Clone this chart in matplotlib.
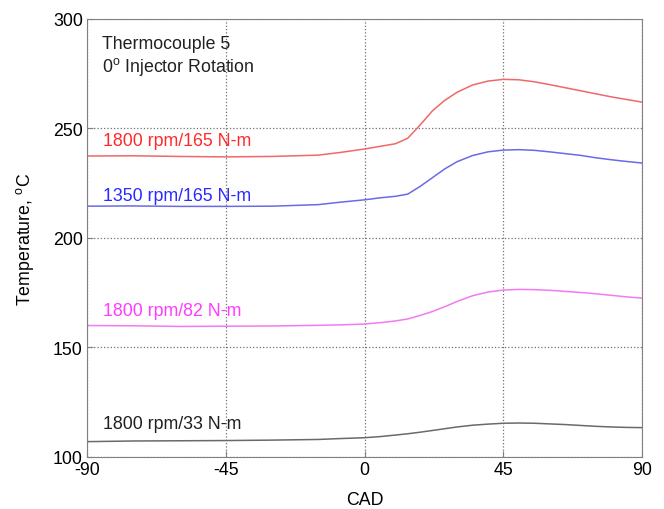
import numpy as np
import matplotlib
matplotlib.use('Agg')
import matplotlib.pyplot as plt

plt.rcParams['font.family'] = ['Liberation Sans', 'DejaVu Sans']
plt.rcParams['mathtext.fontset'] = 'custom'
plt.rcParams['mathtext.rm'] = 'Liberation Sans'
plt.rcParams['mathtext.it'] = 'Liberation Sans'
plt.rcParams['axes.unicode_minus'] = False

# crank angle (deg) and temperatures
cad = [-90, -75, -60, -45, -30, -15, -8, 0, 5, 10, 14, 18, 22, 26, 30, 35, 40, 45,
       50, 55, 60, 65, 70, 75, 80, 85, 90]
t_1800_165 = [237.4, 237.5, 237.2, 237.0, 237.2, 237.8, 239.0, 240.6, 241.8, 243.0, 245.5,
              251.5, 258.0, 262.8, 266.5, 269.8, 271.6, 272.4, 272.2, 271.3, 270.0,
              268.6, 267.2, 265.8, 264.4, 263.2, 262.0]
t_1350_165 = [214.5, 214.6, 214.4, 214.4, 214.5, 215.2, 216.3, 217.4, 218.3, 219.0, 220.0,
              223.5, 227.5, 231.5, 234.8, 237.6, 239.3, 240.1, 240.3, 240.0, 239.3,
              238.5, 237.7, 236.6, 235.7, 234.9, 234.2]
t_1800_82 = [160.0, 159.9, 159.6, 159.7, 159.8, 160.1, 160.3, 160.7, 161.3, 162.1, 163.0,
             164.6, 166.4, 168.6, 171.0, 173.6, 175.3, 176.2, 176.5, 176.4, 176.1,
             175.6, 175.1, 174.5, 173.8, 173.1, 172.5]
t_1800_33 = [107.0, 107.3, 107.4, 107.5, 107.7, 108.0, 108.4, 108.8, 109.3, 110.0, 110.6,
             111.3, 112.1, 112.9, 113.7, 114.5, 115.0, 115.4, 115.5, 115.4, 115.1,
             114.8, 114.4, 114.0, 113.7, 113.5, 113.4]

series = [
    (t_1800_165, '#f06868', '#ff2a2a', '1800 rpm/165 N-m', 244.3),
    (t_1350_165, '#6a6ae6', '#2a2aff', '1350 rpm/165 N-m', 219.2),
    (t_1800_82, '#f27af2', '#ff3cff', '1800 rpm/82 N-m', 167.1),
    (t_1800_33, '#6a6a6a', '#202020', '1800 rpm/33 N-m', 115.2),
]

fs = 12.8
fig = plt.figure(figsize=(6.64, 5.10), dpi=100)
ax = fig.add_axes([0.131, 0.102, 0.836, 0.859])

for vals, lc, tc, label, ty in series:
    ax.plot(cad, vals, color=lc, lw=1.1)
    ax.text(-84.8, ty, label, color=tc, fontsize=fs, va='center', ha='left')

ax.text(-85.2, 288.6, 'Thermocouple 5', fontsize=fs, va='center', color='#202020')
ax.text(-85.2, 278.3, '0$^{\\mathrm{o}}$ Injector Rotation', fontsize=fs, va='center',
        color='#202020')

ax.set_xlim(-90, 90)
ax.set_ylim(100, 300)
ax.set_xticks([-90, -45, 0, 45, 90])
ax.set_yticks([100, 150, 200, 250, 300])
ax.grid(True, linestyle=':', color='#707070', lw=0.9)
ax.tick_params(direction='in', length=4, labelsize=fs, color='#808080', pad=3)
for s in ax.spines.values():
    s.set_color('#808080')

ax.set_xlabel('CAD', fontsize=fs, labelpad=9)
ax.set_ylabel('Temperature, $^{\\mathrm{o}}$C', fontsize=fs, labelpad=12)

fig.savefig('out.png', dpi=100)
